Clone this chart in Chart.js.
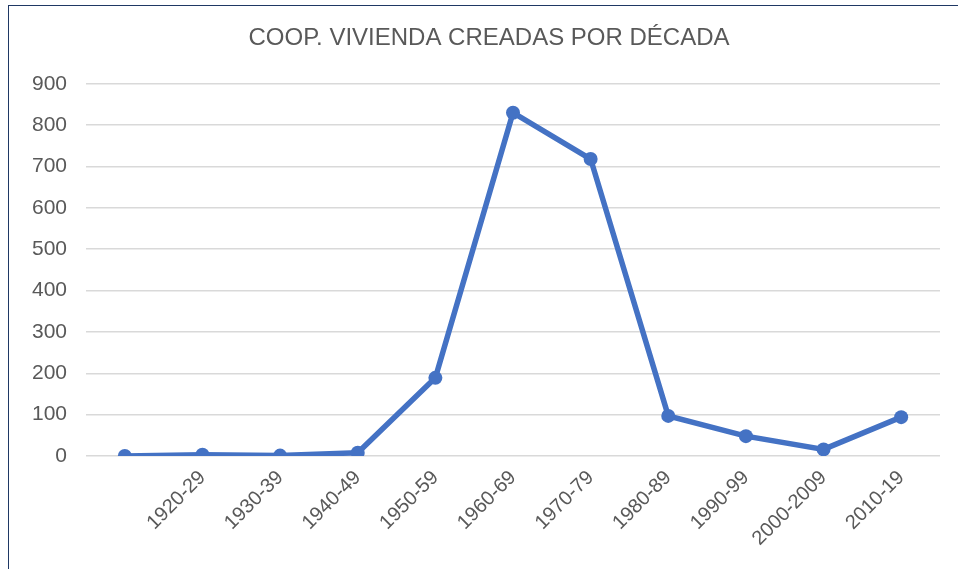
<!DOCTYPE html>
<html>
<head>
<meta charset="utf-8">
<script src="https://cdn.jsdelivr.net/npm/chart.js@4"></script>
<style>
  html, body { margin: 0; padding: 0; background: #fff; overflow: hidden; }
  #frame {
    position: absolute; left: 8px; top: 5px;
    width: 962px; height: 570px;
    border-left: 1px solid #1F3864; border-top: 1px solid #1F3864;
  }
  #wrap { position: relative; width: 960px; height: 564px; }
</style>
</head>
<body>
<div id="frame"><div id="wrap"><canvas id="chart"></canvas></div></div>
<script>
// decade labels (first slot has no label)
const decades = ['', '1920-29', '1930-39', '1940-49', '1950-59', '1960-69', '1970-79', '1980-89', '1990-99', '2000-2009', '2010-19'];
// cooperatives created per decade
const coops = [0, 3, 1, 8, 189, 830, 718, 97, 48, 16, 94];
const yTicks = { min: 0, max: 900, step: 100 };

const blue = '#4472C4';
const grey = '#595959';
const fam = 'Liberation Sans, Arial, sans-serif';

const ctx = document.getElementById('chart').getContext('2d');
new Chart(ctx, {
    type: 'line',
    data: {
        labels: decades,
        datasets: [{
            label: 'Coop. vivienda',
            data: coops,
            borderColor: blue,
            backgroundColor: blue,
            borderWidth: 5.5,
            pointRadius: 7,
            pointHoverRadius: 7,
            pointBackgroundColor: blue,
            pointBorderWidth: 0,
            tension: 0,
            fill: false
        }]
    },
    options: {
        responsive: true,
        maintainAspectRatio: false,
        animation: false,
        layout: { padding: 0 },
        plugins: {
            legend: { display: false },
            tooltip: { enabled: false },
            title: {
                display: true,
                text: 'COOP. VIVIENDA CREADAS POR DÉCADA',
                color: grey,
                font: { family: fam, size: 24, weight: 'normal' },
                padding: { top: 18, bottom: 31 }
            }
        },
        scales: {
            x: {
                offset: true,
                grid: { display: false, drawTicks: false },
                border: { display: false },
                ticks: {
                    color: grey,
                    font: { family: fam, size: 20 },
                    minRotation: 45,
                    maxRotation: 45,
                    autoSkip: false,
                    padding: 10
                },
                afterFit: function(scale) { scale.height = 114; }
            },
            y: {
                min: yTicks.min,
                max: yTicks.max,
                grid: { color: '#D9D9D9', lineWidth: 1.5, drawTicks: false },
                border: { display: false },
                ticks: {
                    stepSize: yTicks.step,
                    color: grey,
                    font: { family: fam, size: 21 },
                    padding: 19
                },
                afterFit: function(scale) { scale.width = 77; }
            },
            // empty right margin so the title stays centred on the frame
            yRight: {
                position: 'right',
                grid: { display: false, drawTicks: false },
                border: { display: false },
                ticks: { display: false },
                afterFit: function(scale) { scale.width = 29; }
            }
        }
    }
});
</script>
</body>
</html>
